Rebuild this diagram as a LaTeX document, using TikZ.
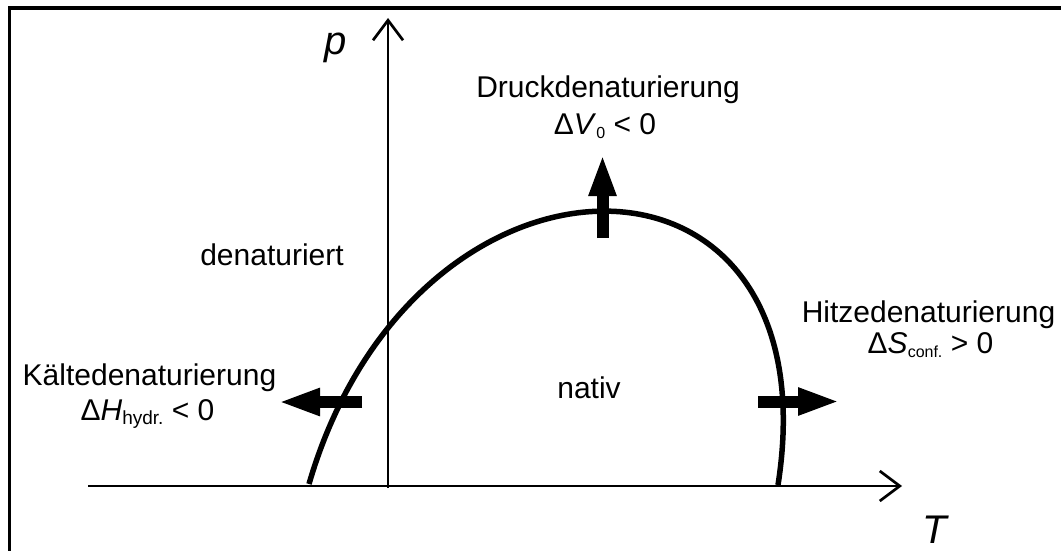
\documentclass[tikz,border=0pt]{standalone}
\usepackage{fontspec}
\setmainfont{Liberation Sans}
\usetikzlibrary{arrows.meta}

\newcommand{\idx}[2][16]{\raisebox{-4pt}{\fontsize{#1}{#1}\selectfont #2}}

\begin{document}
\begin{tikzpicture}[x=1pt,y=-1pt,
    axis/.style={line width=2.7pt,-{Straight Barb[length=20pt,width=30pt]}},
    phase/.style={line width=5.5pt},
    push/.style={line width=12pt,-{Triangle[length=42pt,width=25pt]}},
    lbl/.style={inner sep=0pt,anchor=base,font=\fontsize{30}{36}\selectfont},
    var/.style={lbl,font=\fontsize{40}{44}\selectfont\itshape}]
  \useasboundingbox (0,0) rectangle (1061,551);
  % frame, only left and top edge inside the page
  \draw[line width=3.3pt] (9.5,560) -- (9.5,8) -- (1070,8);
  % axes
  \coordinate (Tstart) at (88,486);
  \coordinate (Tend) at (902,486);
  \coordinate (pstart) at (388,487.5);
  \coordinate (pend) at (388,18);
  \draw[axis] (Tstart) -- (Tend);
  \draw[axis] (pstart) -- (pend);
  \node[var] (plabel) at (336,55) {p};
  \node[var] (Tlabel) at (935,543) {T};
  % phase boundary
  \coordinate (cold0) at (309,484);
  \coordinate (hot0) at (778,485);
  \draw[phase] (cold0) .. controls (415,120) and (835,120) .. (hot0);
  % regions
  \node[lbl] (denat) at (272,265) {denaturiert};
  \node[lbl] (nativ) at (589,398) {nativ};
  % pressure denaturation
  \coordinate (druck) at (602.5,238);
  \coordinate (drucktip) at (602.5,154);
  \draw[push] (druck) -- (drucktip);
  \node[lbl] (drucktxt) at (608,97) {Druckdenaturierung};
  \node[lbl] (druckdv) at (605,134) {Δ\textit{V}\idx{0} < 0};
  % cold denaturation
  \coordinate (kaelte) at (362,402);
  \coordinate (kaeltetip) at (278,402);
  \draw[push] (kaelte) -- (kaeltetip);
  \node[lbl] (kaeltetxt) at (149.5,385) {Kältedenaturierung};
  \node[lbl] (kaeltedh) at (147.5,420) {Δ\textit{H}\idx[19]{hydr.} < 0};
  % heat denaturation
  \coordinate (hitze) at (758,401.5);
  \coordinate (hitzetip) at (840,401.5);
  \draw[push] (hitze) -- (hitzetip);
  \node[lbl] (hitzetxt) at (928.5,322) {Hitzedenaturierung};
  \node[lbl] (hitzeds) at (930.5,353) {Δ\textit{S}\idx{conf.} > 0};
\end{tikzpicture}
\end{document}
